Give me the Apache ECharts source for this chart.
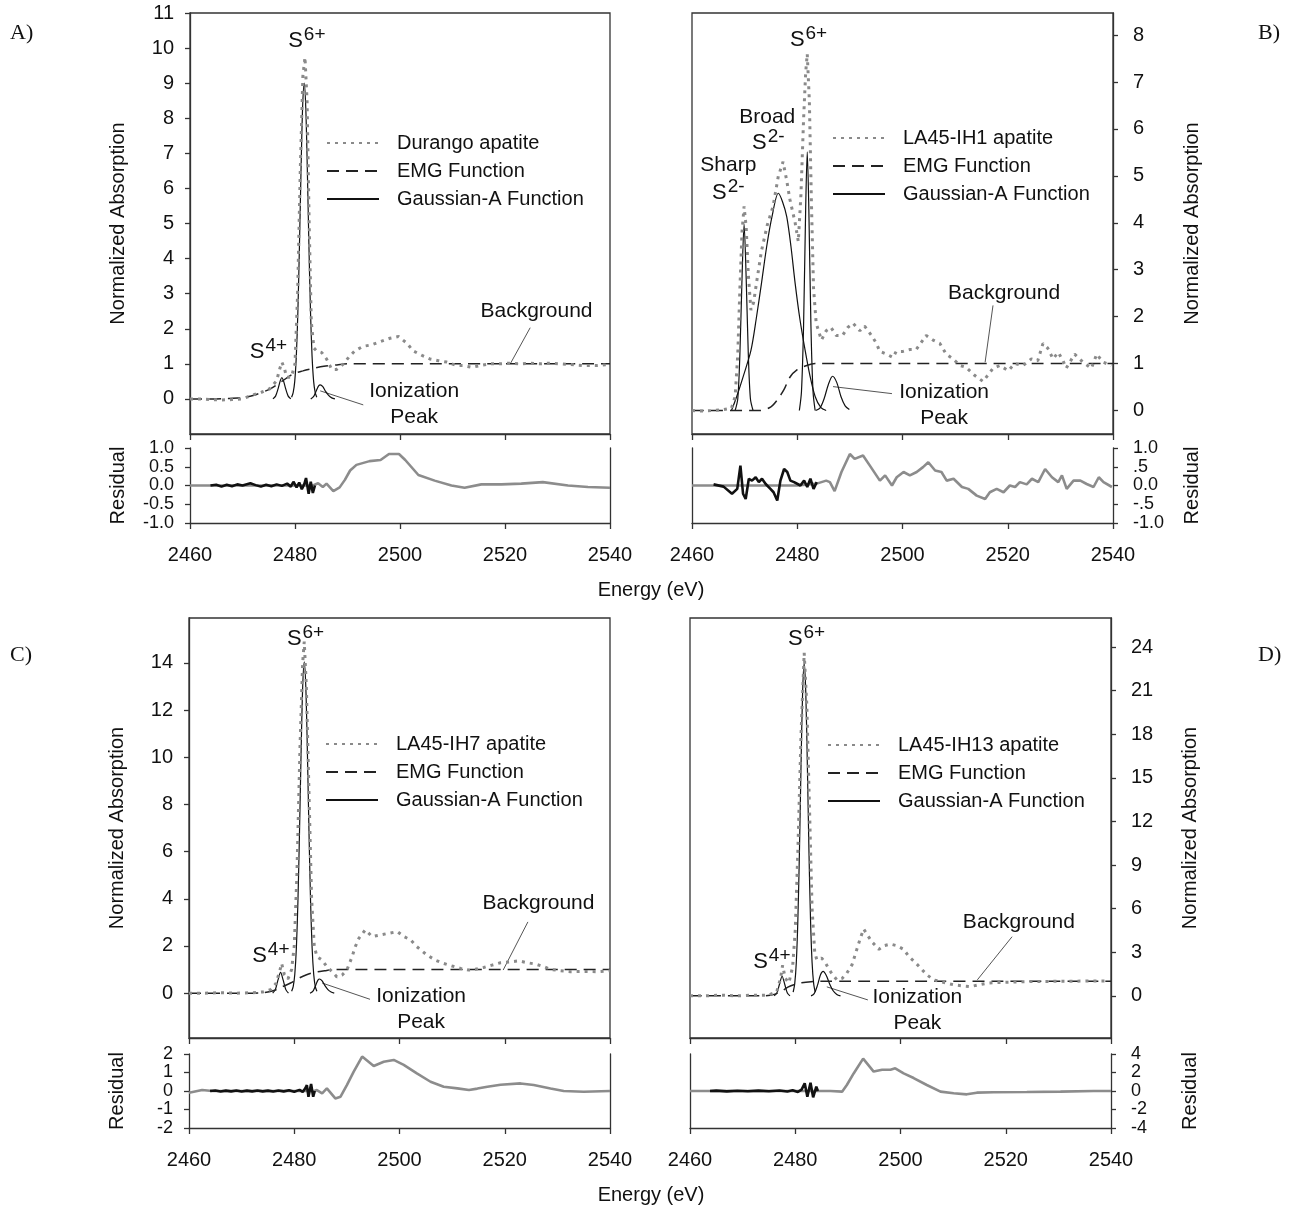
<!DOCTYPE html>
<html>
<head>
<meta charset="utf-8">
<script src="https://cdn.jsdelivr.net/npm/echarts@6/dist/echarts.min.js"></script>
<style>
  html, body { margin: 0; padding: 0; background: #fff; }
  #chart { width: 1300px; height: 1210px; }
</style>
</head>
<body>
<div id="chart"></div>
<script>
// ---------- data: [energy (eV), value] ----------
const sampleNames = ['Durango apatite', 'LA45-IH1 apatite', 'LA45-IH7 apatite', 'LA45-IH13 apatite'];

// Panel A - Durango
const measuredA = [[2460,0],[2462,0],[2464,-0.02],[2466,-0.03],[2468,-0.02],[2470,0],[2471.7,0.1],[2473.6,0.19],[2475.2,0.29],[2476.5,0.52],[2477.1,0.86],[2477.5,1.05],[2478,0.86],[2478.4,0.62],[2479.3,0.62],[2480,1.0],[2480.5,3.0],[2481,6.5],[2481.5,9.2],[2481.9,9.74],[2482.3,8.5],[2482.7,5.0],[2483.1,2.2],[2483.6,1.45],[2484.1,1.37],[2485.1,1.32],[2486,1.14],[2487,0.84],[2487.9,0.84],[2489.2,0.99],[2490.3,1.2],[2491.4,1.37],[2493,1.5],[2494.6,1.54],[2496.2,1.63],[2498.1,1.73],[2499.7,1.78],[2501.3,1.59],[2502.5,1.37],[2504.2,1.24],[2505.7,1.14],[2507.3,1.09],[2508.9,1.05],[2510.8,0.95],[2512.1,0.95],[2513.7,0.9],[2515.3,0.95],[2517.2,1.0],[2519.1,1.0],[2521,1.02],[2522.9,1.0],[2524.8,1.02],[2526.7,1.0],[2528.6,1.02],[2530.5,1.0],[2532.4,0.98],[2535,0.95],[2537.5,0.95],[2540,0.98]];
const emgA = [[2460,0],[2464,0],[2467,0.01],[2469.5,0.03],[2472,0.1],[2475.2,0.28],[2477.5,0.5],[2479.6,0.71],[2481.5,0.8],[2483.4,0.87],[2485.5,0.93],[2488,0.97],[2490,1.0],[2540,1.0]];
const gaussA_S4 = [[2475.8,0],[2476.3,0.08],[2476.8,0.3],[2477.2,0.52],[2477.5,0.61],[2477.8,0.52],[2478.2,0.3],[2478.7,0.08],[2479.2,0]];
const gaussA_S6 = [[2479.35,0.05],[2479.65,0.18],[2479.95,0.5],[2480.25,1.22],[2480.55,2.5],[2480.85,4.38],[2481.15,6.53],[2481.45,8.31],[2481.75,9.0],[2482.05,8.31],[2482.35,6.53],[2482.65,4.38],[2482.95,2.5],[2483.25,1.22],[2483.55,0.5],[2483.85,0.18],[2484.15,0.05]];
const gaussA_Ion = [[2483.0,0],[2483.6,0.08],[2484.1,0.25],[2484.5,0.37],[2484.8,0.4],[2485.3,0.35],[2485.8,0.22],[2486.4,0.1],[2487.0,0.03],[2487.6,0]];
const residualA = [[2460,0],[2464,0],[2470,0],[2476,0],[2480,0],[2483.4,0],[2484.4,0.06],[2485.3,-0.04],[2486,0.05],[2487.3,-0.15],[2488.5,-0.05],[2489.5,0.15],[2490.5,0.4],[2491.7,0.55],[2494.2,0.65],[2496.3,0.68],[2497.9,0.84],[2499.8,0.84],[2501,0.68],[2503.5,0.28],[2506.6,0.13],[2509.8,0],[2512.3,-0.06],[2515.5,0.03],[2519.3,0.03],[2523.1,0.05],[2527.2,0.09],[2532,0],[2535.8,-0.04],[2540,-0.06]];
const residualFitA = [[2463.9,0],[2465,0.02],[2466,-0.03],[2467,0.02],[2468,-0.02],[2469,0.03],[2470,0],[2471.5,0.06],[2472.5,0.01],[2473.5,-0.03],[2474.5,0.02],[2475.5,-0.02],[2476.5,0.03],[2477.5,-0.01],[2478.5,0.05],[2479.2,-0.03],[2479.7,0.1],[2480.3,-0.05],[2480.8,0.08],[2481.3,-0.1],[2481.8,0.05],[2482.1,0.2],[2482.6,-0.22],[2483,0.1],[2483.4,-0.2],[2483.8,0]];

// Panel B - LA45-IH1
const measuredB = [[2460,0],[2462,-0.01],[2464,0],[2466,0.02],[2467.5,0.05],[2468.2,0.3],[2468.7,1.2],[2469.1,2.6],[2469.5,3.8],[2469.9,4.35],[2470.3,3.9],[2470.7,2.9],[2471.2,2.14],[2471.7,2.3],[2472.3,2.75],[2473.2,3.4],[2474.3,3.95],[2475.4,4.35],[2476.4,4.99],[2477.3,5.3],[2478,4.9],[2478.6,4.5],[2479.6,4.0],[2480.2,3.6],[2480.7,4.6],[2481.2,6.2],[2481.6,7.2],[2481.9,7.6],[2482.3,6.6],[2482.7,4.4],[2483.1,2.6],[2483.6,1.86],[2484.6,1.5],[2485.5,1.7],[2486.4,1.77],[2487.4,1.6],[2488.6,1.6],[2489.6,1.77],[2490.6,1.86],[2491.9,1.7],[2492.8,1.8],[2494.1,1.6],[2495,1.44],[2495.7,1.26],[2497,1.2],[2498.2,1.13],[2498.8,1.26],[2500.1,1.26],[2501.4,1.3],[2502.6,1.3],[2504.5,1.6],[2505.8,1.5],[2507.1,1.43],[2508.3,1.2],[2509.6,1.1],[2510.9,0.96],[2512.1,0.92],[2513.7,0.75],[2515.3,0.62],[2516.2,0.75],[2517.2,0.9],[2518.5,0.96],[2520.1,0.85],[2521.3,1.0],[2522.9,0.96],[2524.5,1.1],[2525.7,1.06],[2526.7,1.43],[2527.6,1.33],[2528.6,1.1],[2529.6,1.24],[2530.5,1.06],[2531.1,0.9],[2532.7,1.2],[2534.3,1.03],[2535.9,0.9],[2536.9,1.2],[2538.1,1.03],[2539.7,0.96]];
const emgB = [[2460,0],[2473,0],[2475,0.08],[2476.1,0.21],[2477.5,0.45],[2478.6,0.71],[2480,0.87],[2481.8,0.96],[2483.4,1.0],[2540,1.0]];
const gaussB_Sharp = [[2468.2,0],[2468.7,0.25],[2469.1,1.2],[2469.5,2.8],[2469.9,3.97],[2470.3,2.8],[2470.7,1.2],[2471.1,0.25],[2471.6,0]];
const gaussB_Broad = [[2467.5,0],[2468.5,0.3],[2469.8,0.75],[2471.2,1.28],[2472.2,1.95],[2473.2,2.71],[2474.2,3.5],[2475.2,4.13],[2476.4,4.63],[2477.2,4.45],[2478,4.13],[2478.8,3.5],[2479.6,2.71],[2480.5,1.95],[2481.5,1.28],[2482.4,0.75],[2483.4,0.3],[2484.5,0.06],[2485.5,0]];
const gaussB_S6 = [[2480.4,0],[2480.8,0.4],[2481.2,1.8],[2481.6,4.3],[2481.9,5.51],[2482.2,4.3],[2482.6,1.8],[2483.0,0.4],[2483.4,0]];
const gaussB_Ion = [[2483.5,0],[2484.3,0.05],[2485.1,0.25],[2485.9,0.55],[2486.7,0.73],[2487.5,0.6],[2488.3,0.3],[2489.1,0.1],[2489.9,0.02]];
const residualB = [[2460,0],[2464,0],[2472,0],[2480,0],[2483.7,0.05],[2484.6,0.09],[2485.5,0.13],[2486.2,0.09],[2487.1,-0.15],[2488.4,0.36],[2490,0.84],[2490.9,0.71],[2492.5,0.8],[2493.8,0.53],[2495.7,0.13],[2496.7,0.27],[2498,0],[2498.9,0.22],[2500.2,0.36],[2501.4,0.27],[2502.7,0.36],[2503.9,0.49],[2504.9,0.62],[2506.2,0.4],[2507.4,0.36],[2508.4,0.13],[2509.7,0.18],[2511.3,-0.04],[2512.5,-0.09],[2514.1,-0.27],[2515.7,-0.36],[2516.6,-0.18],[2517.9,-0.09],[2519.2,-0.18],[2520.4,0],[2521.4,-0.04],[2522.3,0.09],[2523.6,0.03],[2524.6,0.18],[2525.8,0.09],[2527.1,0.44],[2528.4,0.22],[2529.6,0.09],[2530.3,0.27],[2531.2,-0.09],[2532.5,0.13],[2533.8,0.13],[2535,0.04],[2536.3,-0.04],[2537.3,0.22],[2538.2,0.09],[2539.8,-0.04]];
const residualFitB = [[2464.1,0.03],[2466,-0.03],[2467.6,-0.22],[2468.6,-0.09],[2469.2,0.53],[2469.7,-0.22],[2470.2,-0.36],[2470.8,0.18],[2471.4,0.13],[2472.1,0.22],[2472.7,0.09],[2473.3,0.18],[2474,0.04],[2474.9,-0.09],[2475.5,-0.18],[2476.2,-0.4],[2476.8,0.13],[2477.5,0.44],[2478.1,0.36],[2478.7,0.13],[2479.4,0.09],[2480.6,0],[2481.3,0.13],[2481.9,-0.04],[2482.5,0.18],[2483.1,-0.09],[2483.7,0.09]];

// Panel C - LA45-IH7
const measuredC = [[2460,0],[2463,0],[2466,0.02],[2469,0],[2472,0.02],[2474,0.05],[2475.5,0.15],[2476.5,0.4],[2477.2,0.9],[2477.6,1.26],[2478.1,0.8],[2478.8,0.6],[2479.5,1.0],[2480,2.0],[2480.5,5.0],[2481.1,10.5],[2481.6,14.0],[2481.9,14.9],[2482.3,13.0],[2482.8,8.5],[2483.3,4.0],[2483.8,2.0],[2484.3,1.55],[2485.3,1.4],[2486.2,1.12],[2487.2,0.91],[2488.1,0.69],[2489.1,0.77],[2490,0.98],[2491,1.55],[2491.6,1.97],[2492.3,2.33],[2493.5,2.68],[2494.8,2.4],[2496.4,2.47],[2498,2.54],[2499.6,2.61],[2500.8,2.4],[2502.1,2.26],[2503.3,1.97],[2505.2,1.62],[2506.8,1.4],[2508.4,1.26],[2510,1.15],[2511.6,1.05],[2513.2,0.98],[2514.4,1.01],[2516,1.09],[2517.6,1.19],[2519.2,1.29],[2521.1,1.33],[2522.7,1.37],[2524.3,1.29],[2525.9,1.23],[2527.5,1.12],[2528.7,1.01],[2530.6,0.95],[2532.5,0.91],[2535,0.92],[2537.6,0.91],[2540,0.95]];
const emgC = [[2460,0],[2470,0],[2474,0.02],[2476,0.1],[2477.5,0.25],[2479.3,0.43],[2481,0.65],[2483.2,0.85],[2485.8,0.95],[2488,1.0],[2540,1.0]];
const gaussC_S4 = [[2475.9,0],[2476.4,0.15],[2476.9,0.55],[2477.4,0.88],[2477.9,0.55],[2478.4,0.15],[2478.9,0]];
const gaussC_S6 = [[2479.5,0.08],[2479.8,0.28],[2480.1,0.79],[2480.4,1.9],[2480.7,3.9],[2481.0,6.83],[2481.3,10.2],[2481.6,12.96],[2481.9,14.04],[2482.2,12.96],[2482.5,10.2],[2482.8,6.83],[2483.1,3.9],[2483.4,1.9],[2483.7,0.79],[2484.0,0.28],[2484.3,0.08]];
const gaussC_Ion = [[2483.0,0],[2483.6,0.1],[2484.1,0.35],[2484.5,0.55],[2484.8,0.6],[2485.3,0.52],[2485.8,0.33],[2486.4,0.15],[2487.0,0.05],[2487.6,0]];
const residualC = [[2460,-0.09],[2462.5,0.05],[2464.4,0],[2470,0],[2478,0],[2483.8,0],[2484.3,0.05],[2485.3,-0.13],[2486.2,0.14],[2487.8,-0.4],[2488.8,-0.31],[2490,0.32],[2491.3,1.05],[2492.9,1.86],[2495.1,1.35],[2497,1.58],[2498.9,1.68],[2500.8,1.41],[2503.3,0.95],[2505.9,0.5],[2508.4,0.23],[2511,0.14],[2513.2,0.05],[2514.8,0.13],[2516.7,0.23],[2519.2,0.34],[2523,0.41],[2525.5,0.32],[2528.7,0.14],[2531.2,0],[2535,-0.04],[2540,0]];
const residualFitC = [[2464,0],[2465,0.03],[2466,-0.03],[2467,0.02],[2468,-0.02],[2469,0.03],[2470,-0.03],[2471,0.02],[2472,-0.02],[2473,0.03],[2474,-0.02],[2475,0.02],[2476,-0.03],[2477,0.03],[2478,-0.02],[2479,0.04],[2480,-0.04],[2481,0.06],[2481.6,-0.05],[2482.1,0.15],[2482.4,0.32],[2482.7,-0.31],[2483.2,0.38],[2483.6,-0.31],[2483.9,0]];

// Panel D - LA45-IH13
const measuredD = [[2460,0],[2463,0],[2466,0.05],[2469,0],[2472,0.05],[2475,0.05],[2476.5,0.3],[2477.2,1.2],[2477.6,2.1],[2478.1,1.2],[2478.8,0.9],[2479.5,2.0],[2480,4.5],[2480.5,10],[2481.1,18],[2481.7,23.6],[2482.2,20],[2482.7,13],[2483.2,6],[2483.7,3.0],[2484.1,2.48],[2485,2.6],[2485.7,2.3],[2486.3,1.9],[2486.9,1.56],[2487.9,1.1],[2488.9,1.2],[2489.8,1.56],[2490.8,2.15],[2491.7,3.2],[2492.4,4.0],[2493,4.6],[2493.6,4.25],[2494.6,3.7],[2495.9,3.2],[2496.8,3.45],[2498.1,3.56],[2499.3,3.45],[2500.6,3.2],[2501.6,2.7],[2502.8,2.3],[2504.1,1.8],[2505,1.45],[2506.3,1.1],[2507.6,0.98],[2508.8,0.87],[2510.1,0.76],[2511.7,0.69],[2513.3,0.64],[2514.9,0.76],[2516.5,0.87],[2518.4,0.92],[2520.3,0.94],[2522.8,0.97],[2525.4,0.99],[2527.9,0.99],[2530.4,1.01],[2533.5,1.01],[2536.7,1.03],[2539.6,1.03]];
const emgD = [[2460,0],[2474,0],[2476,0.1],[2477.5,0.35],[2478.6,0.6],[2480,0.8],[2481.2,0.9],[2483,0.97],[2485,1.0],[2540,1.0]];
const gaussD_S4 = [[2476.0,0],[2476.5,0.2],[2477.0,0.8],[2477.5,1.35],[2478.0,0.8],[2478.5,0.2],[2479.0,0]];
const gaussD_S6 = [[2479.6,0.25],[2479.9,0.84],[2480.2,2.3],[2480.5,5.27],[2480.8,10.0],[2481.1,15.9],[2481.4,20.9],[2481.7,22.9],[2482.0,20.9],[2482.3,15.9],[2482.6,10.0],[2482.9,5.27],[2483.2,2.3],[2483.5,0.84],[2483.8,0.25]];
const gaussD_Ion = [[2483.0,0],[2483.6,0.15],[2484.2,0.7],[2484.8,1.45],[2485.3,1.68],[2485.9,1.4],[2486.5,0.85],[2487.2,0.35],[2487.9,0.1],[2488.6,0]];
const residualD = [[2460,0],[2464,0],[2470,0],[2480,0],[2484.8,0],[2486.7,0],[2488.9,-0.07],[2489.8,0.65],[2491.1,1.9],[2492.9,3.5],[2494.9,2.1],[2496.5,2.3],[2498.1,2.3],[2499,2.45],[2500.6,1.9],[2502.5,1.4],[2505,0.65],[2507.6,-0.07],[2510.1,-0.25],[2512.6,-0.36],[2514.5,-0.18],[2517.7,-0.14],[2524,-0.11],[2530.4,-0.07],[2536.7,0],[2540,0]];
const residualFitD = [[2463.8,0],[2465,0.04],[2467,-0.04],[2469,0.03],[2471,-0.03],[2473,0.04],[2475,-0.03],[2477,0.05],[2478.5,-0.05],[2479.5,0.08],[2480.5,-0.1],[2481.2,0.15],[2481.8,0.83],[2482.3,-0.61],[2482.9,0.9],[2483.4,-0.68],[2484,0.47],[2484.3,0]];

// axis ranges and tick labels
const energyTicks = [2460, 2480, 2500, 2520, 2540];
const mainRanges = [[-1, 11], [-0.5, 8.47], [-1.9, 15.9], [-2.9, 26]];
const mainTicks = [
  [0,1,2,3,4,5,6,7,8,9,10,11],
  [0,1,2,3,4,5,6,7,8],
  [0,2,4,6,8,10,12,14],
  [0,3,6,9,12,15,18,21,24]
];
const residualRanges = [[-1, 1], [-1, 1], [-2, 2], [-4, 4]];
const residualTicks = [[-1,-0.5,0,0.5,1], [-1,-0.5,0,0.5,1], [-2,-1,0,1,2], [-4,-2,0,2,4]];
const residualTickLabels = [
  ['-1.0','-0.5','0.0','0.5','1.0'],
  ['-1.0','-.5','0.0','.5','1.0'],
  ['-2','-1','0','1','2'],
  ['-4','-2','0','2','4']
];

// annotation anchors, in data units
const peakLabels = [
  [{s:'S', sup:'6+', at:[2478.7,10.2]}, {s:'S', sup:'4+', at:[2471.4,1.34]}],
  [{s:'S', sup:'6+', at:[2478.6,7.9]}, {s:'S', sup:'2-', at:[2471.4,5.7]}, {s:'S', sup:'2-', at:[2463.8,4.64]}],
  [{s:'S', sup:'6+', at:[2478.6,15.0]}, {s:'S', sup:'4+', at:[2472,1.57]}],
  [{s:'S', sup:'6+', at:[2478.6,24.55]}, {s:'S', sup:'4+', at:[2472,2.34]}]
];
const plainLabels = [
  [{t:'Background', at:[2526,2.49]}, {t:'Ionization\nPeak', at:[2502.7,-0.14]}],
  [{t:'Background', at:[2519.3,2.5]}, {t:'Ionization\nPeak', at:[2507.9,0.11]}, {t:'Broad', at:[2474.3,6.26]}, {t:'Sharp', at:[2466.9,5.23]}],
  [{t:'Background', at:[2526.4,3.83]}, {t:'Ionization\nPeak', at:[2504.1,-0.66]}],
  [{t:'Background', at:[2522.5,5.1]}, {t:'Ionization\nPeak', at:[2503.2,-1.0]}]
];
const leaders = [
  [[2524.8,2.03,2521,1.0], [2493,-0.17,2484.8,0.23]],
  [[2517.2,2.24,2515.7,1.03], [2498,0.36,2486.8,0.51]],
  [[2524.4,3.02,2519.7,0.98], [2494.4,-0.26,2485.3,0.43]],
  [[2521.2,4.07,2514.6,1.1], [2493.8,-0.28,2486,0.62]]
];

const panels = [
  {measured: measuredA, emg: emgA, gauss: [gaussA_S4, gaussA_S6, gaussA_Ion], res: residualA, resFit: residualFitA},
  {measured: measuredB, emg: emgB, gauss: [gaussB_Sharp, gaussB_Broad, gaussB_S6, gaussB_Ion], res: residualB, resFit: residualFitB},
  {measured: measuredC, emg: emgC, gauss: [gaussC_S4, gaussC_S6, gaussC_Ion], res: residualC, resFit: residualFitC},
  {measured: measuredD, emg: emgD, gauss: [gaussD_S4, gaussD_S6, gaussD_Ion], res: residualD, resFit: residualFitD}
];

// ---------- layout ----------
const FONT = '"Liberation Sans", Arial, sans-serif';
const INK = '#111';
const AXIS = '#333';
const layout = [
  {main:{left:190, top:13, width:420, height:421}, res:{left:190, top:448, width:420, height:75}, side:'left', legend:[326,133]},
  {main:{left:692, top:13, width:421, height:421}, res:{left:692, top:448, width:421, height:75}, side:'right', legend:[832,128]},
  {main:{left:189, top:618, width:421, height:420}, res:{left:189, top:1054, width:421, height:74}, side:'left', legend:[325,734]},
  {main:{left:690, top:618, width:421, height:420}, res:{left:690, top:1054, width:421, height:74}, side:'right', legend:[827,735]}
];

const grids = [], xAxes = [], yAxes = [], series = [], legends = [];
const axisLine = {show: true, onZero: false, lineStyle: {color: AXIS, width: 1.3}};
const tickStyle = {color: AXIS, width: 1.3};

panels.forEach((p, i) => {
  const L = layout[i];
  const right = L.side === 'right';
  grids.push(Object.assign({show: true, borderColor: AXIS, borderWidth: 1.3}, L.main));
  grids.push(Object.assign({show: false}, L.res));

  // x axes
  xAxes.push({type:'value', gridIndex: 2*i, min:2460, max:2540, interval:20,
    axisLine, axisTick:{show:true, inside:false, length:6, lineStyle:tickStyle},
    axisLabel:{show:false}, splitLine:{show:false}});
  xAxes.push({type:'value', gridIndex: 2*i+1, min:2460, max:2540, interval:20,
    axisLine, axisTick:{show:true, inside:false, length:6, lineStyle:tickStyle},
    axisLabel:{show:true, margin:22, fontSize:20, fontFamily:FONT, color:INK,
      customValues: energyTicks, showMinLabel:true, showMaxLabel:true, formatter: v => String(v)},
    splitLine:{show:false}});

  // y axes: main, residual, residual opposite frame line
  yAxes.push({type:'value', gridIndex: 2*i, position: L.side, min: mainRanges[i][0], max: mainRanges[i][1],
    name: 'Normalized Absorption', nameLocation:'middle', nameRotate: 90, nameGap: right ? 69 : 62,
    nameTextStyle:{fontSize:20, fontFamily:FONT, color:INK},
    axisLine, axisTick:{show:true, inside:false, length:5, lineStyle:tickStyle, customValues: mainTicks[i]},
    axisLabel:{show:true, margin: right ? 20 : 16, fontSize:20, fontFamily:FONT, color:INK, customValues: mainTicks[i],
      showMinLabel:true, showMaxLabel:true},
    splitLine:{show:false}});
  yAxes.push({type:'value', gridIndex: 2*i+1, position: L.side, min: residualRanges[i][0], max: residualRanges[i][1],
    name: 'Residual', nameLocation:'middle', nameRotate: 90, nameGap: right ? 69 : 62,
    nameTextStyle:{fontSize:20, fontFamily:FONT, color:INK},
    axisLine, axisTick:{show:true, inside:false, length:5, lineStyle:tickStyle, customValues: residualTicks[i]},
    axisLabel:{show:true, margin: right ? 20 : 16, fontSize:18, lineHeight:15, fontFamily:FONT, color:INK,
      customValues: residualTicks[i], showMinLabel:true, showMaxLabel:true, hideOverlap:false, interval:0,
      formatter: v => residualTickLabels[i][residualTicks[i].indexOf(v)]},
    splitLine:{show:false}});
  yAxes.push({type:'value', gridIndex: 2*i+1, position: right ? 'left' : 'right',
    min: residualRanges[i][0], max: residualRanges[i][1],
    axisLine, axisTick:{show:false}, axisLabel:{show:false}, splitLine:{show:false}});

  const xm = 2*i, ym = 3*i, xr = 2*i+1, yr = 3*i+1;
  p.gauss.forEach(g => series.push({type:'line', name:'Gaussian-A Function', xAxisIndex:xm, yAxisIndex:ym,
    data:g, symbol:'none', smooth:0.3, itemStyle:{color:INK}, lineStyle:{color:INK, width:1.2}, z:2}));
  series.push({type:'line', name:'EMG Function', xAxisIndex:xm, yAxisIndex:ym, data:p.emg,
    symbol:'none', smooth:0.3, itemStyle:{color:'#222'}, lineStyle:{color:'#222', width:1.5, type:[12,7]}, z:3});
  series.push({type:'line', name:sampleNames[i], xAxisIndex:xm, yAxisIndex:ym, data:p.measured,
    symbol:'none', itemStyle:{color:'#8a8a8a'}, lineStyle:{color:'#8a8a8a', width:3, type:[3,5]}, z:4});
  series.push({type:'line', name:'residual', xAxisIndex:xr, yAxisIndex:yr, data:p.res,
    symbol:'none', lineStyle:{color:'#8c8c8c', width:2.6}, z:2});
  series.push({type:'line', name:'residual fit region', xAxisIndex:xr, yAxisIndex:yr, data:p.resFit,
    symbol:'none', lineStyle:{color:INK, width:2.6}, z:3});

  legends.push({orient:'vertical', left:L.legend[0], top:L.legend[1], padding:0,
    itemWidth:52, itemHeight:12, itemGap:8, selectedMode:false,
    itemStyle:{opacity:0, borderWidth:0},
    data:[sampleNames[i], 'EMG Function', 'Gaussian-A Function'],
    textStyle:{fontSize:20, fontFamily:FONT, color:INK, padding:[0,0,0,13]}});
});

const chart = echarts.init(document.getElementById('chart'));
chart.setOption({
  animation: false,
  backgroundColor: '#fff',
  grid: grids, xAxis: xAxes, yAxis: yAxes, legend: legends,
  series: series.map(s => Object.assign({emphasis:{disabled:true}, silent:true}, s))
});

// ---------- annotations ----------
const measure = document.createElement('canvas').getContext('2d');
const graphics = [];
const toPx = (i, pt) => chart.convertToPixel({xAxisIndex: 2*i, yAxisIndex: 3*i}, pt);

panels.forEach((p, i) => {
  peakLabels[i].forEach(lb => {
    const [x, y] = toPx(i, lb.at);
    measure.font = '22px "Liberation Sans"';
    const w = measure.measureText(lb.s).width;
    graphics.push({type:'text', x, y, style:{text:lb.s, fontSize:22, fontFamily:FONT, fill:INK,
      align:'left', verticalAlign:'middle'}});
    graphics.push({type:'text', x: x + w + 1, y: y - 6, style:{text:lb.sup, fontSize:19, fontFamily:FONT, fill:INK,
      align:'left', verticalAlign:'middle'}});
  });
  plainLabels[i].forEach(lb => {
    const [x, y] = toPx(i, lb.at);
    graphics.push({type:'text', x, y, style:{text:lb.t, fontSize:21, fontFamily:FONT, fill:INK,
      align:'center', verticalAlign:'middle', lineHeight:26}});
  });
  leaders[i].forEach(l => {
    const a = toPx(i, [l[0], l[1]]), b = toPx(i, [l[2], l[3]]);
    graphics.push({type:'line', shape:{x1:a[0], y1:a[1], x2:b[0], y2:b[1]}, style:{stroke:'#555', lineWidth:1}});
  });
});

const panelLetters = [['A)', 10, 33], ['B)', 1258, 33], ['C)', 10, 655], ['D)', 1258, 655]];
panelLetters.forEach(([t, x, y]) => graphics.push({type:'text', x, y,
  style:{text:t, fontSize:22, fontFamily:'"Liberation Serif", "Times New Roman", serif', fill:INK, align:'left', verticalAlign:'middle'}}));
[590, 1195].forEach(y => graphics.push({type:'text', x:651, y,
  style:{text:'Energy (eV)', fontSize:20, fontFamily:FONT, fill:INK, align:'center', verticalAlign:'middle'}}));

chart.setOption({graphic: graphics});
</script>
</body>
</html>
